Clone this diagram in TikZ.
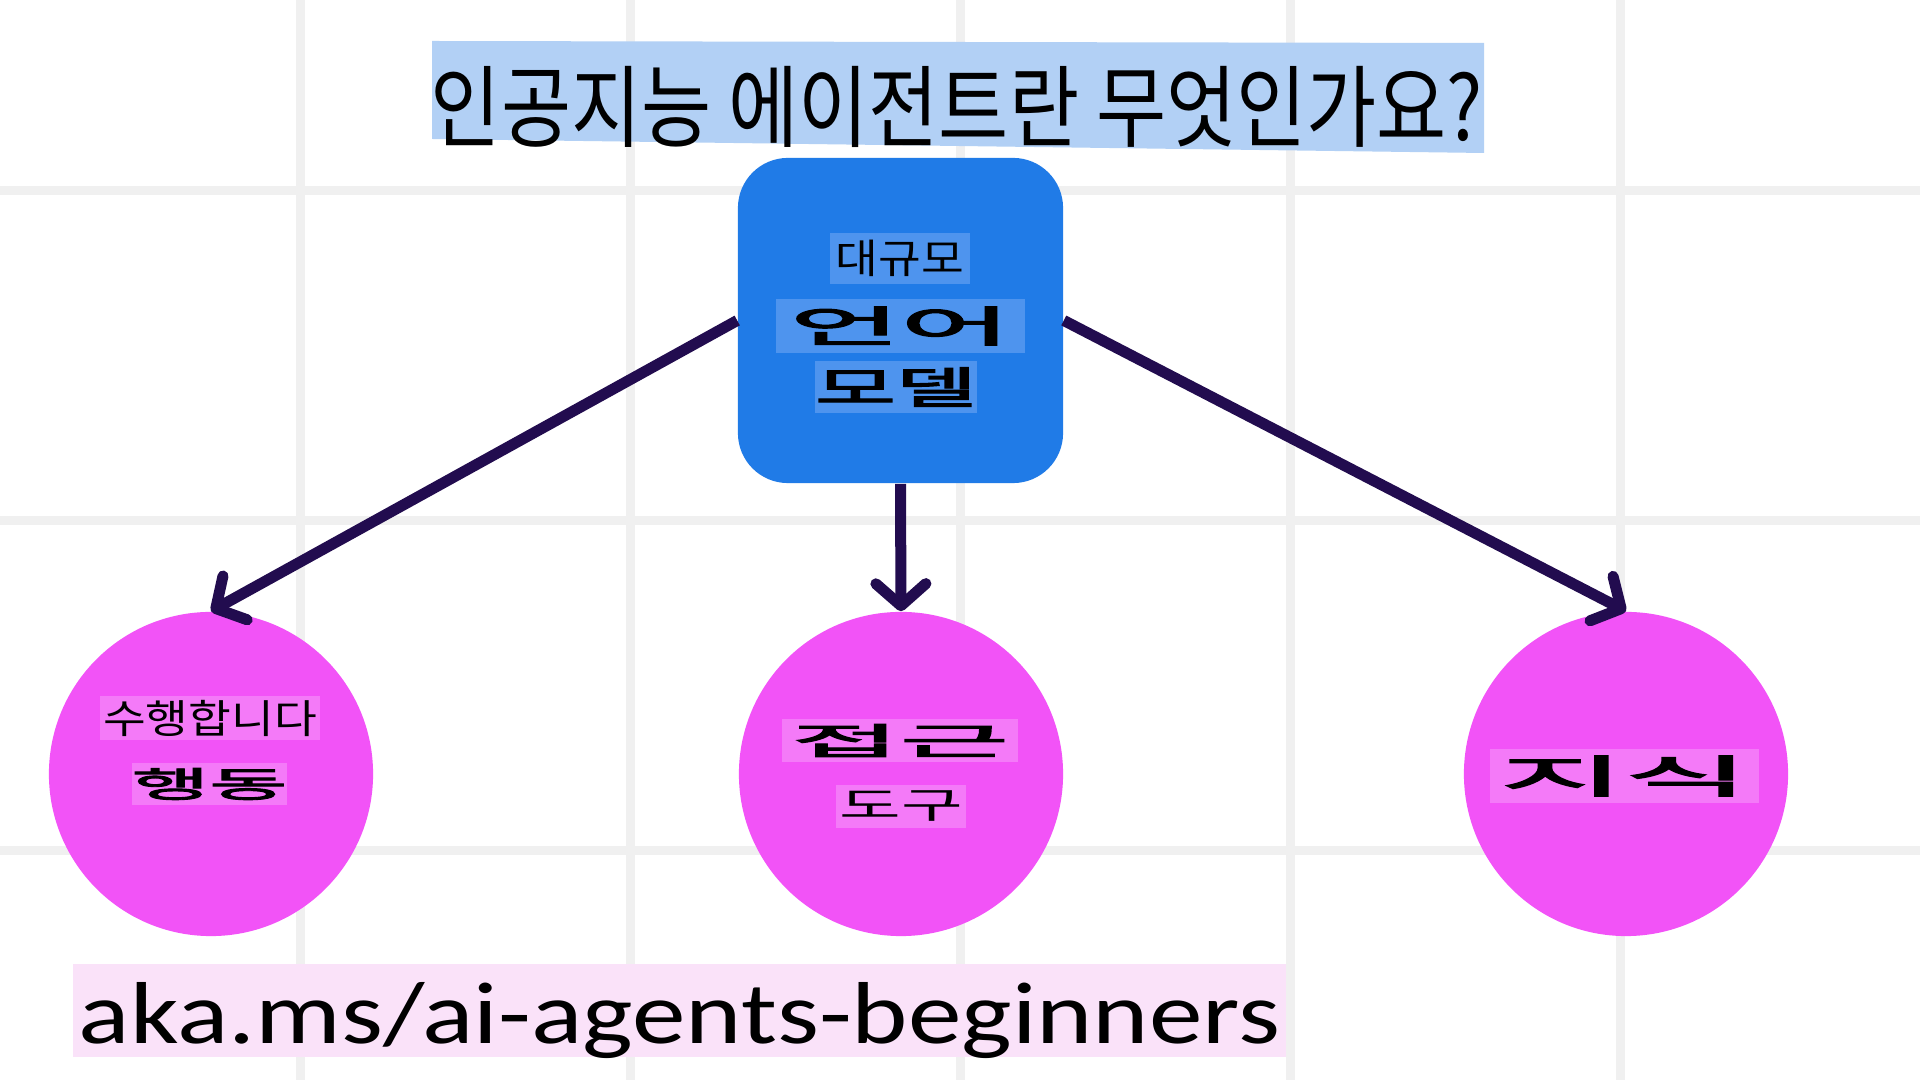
\documentclass[tikz,border=0pt]{standalone}
\usepackage{fontspec}
\usepackage{graphicx}
\usetikzlibrary{arrows.meta}
\setmainfont{Carlito}
\newfontfamily\kr{Noto Sans CJK KR}
\newfontfamily\krheavy[FakeBold=2.5]{Noto Sans CJK KR}
\definecolor{gridgray}{HTML}{F0F0F0}
\definecolor{titlebg}{HTML}{B2D0F5}
\definecolor{llmblue}{HTML}{207BE7}
\definecolor{llmhl}{HTML}{4E94EE}
\definecolor{pink}{HTML}{F253F7}
\definecolor{pinkhl}{HTML}{F47AF8}
\definecolor{urlbg}{HTML}{FAE2F9}
\definecolor{ink}{HTML}{220C4F}
\newcommand\stretchx[2]{\scalebox{#1}[1]{#2}}
\tikzset{
  gridline/.style={draw=gridgray, line width=0.09cm},
  llmbox/.style={fill=llmblue, rounded corners=0.5cm, minimum width=3.25cm, minimum height=3.25cm, inner sep=0pt},
  ball/.style={circle, fill=pink, minimum size=3.24cm, inner sep=0pt},
  hl/.style={inner sep=0pt, text=black},
  pointer/.style={draw=ink, line width=0.11cm, -{Straight Barb[length=0.22cm, width=0.5cm, round]}}
}
\newcommand\krsize[1]{\kr\fontsize{#1}{#1}\selectfont}
\newcommand\krheavysize[1]{\krheavy\fontsize{#1}{#1}\selectfont}

\begin{document}
\begin{tikzpicture}[x=0.01cm, y=-0.01cm]
  \def\gap {330}

  \fill[white] (0,0) rectangle (1920,1080);
  \useasboundingbox (0,0) rectangle (1920,1080);
  \foreach \i in {0,...,4}
    \draw[gridline] ({300.5+\gap*\i},0) -- ++(0,1080);
  \foreach \j in {0,1,2}
    \draw[gridline] (0,{191+\gap*\j}) -- ++(1920,0);

  % title
  \fill[titlebg] (432,41) -- (1484,43) -- (1484,153) -- (432,139) -- cycle;
  \node (title) at (957,107) [hl, font=\krsize{25.5}] {\stretchx{0.85}{인공지능 에이전트란 무엇인가요?}};

  % model
  \node (llm) at (900.5,320.5) [llmbox] {};
  \node (llm1) at (900,258.5) [hl, fill=llmhl, minimum width=1.4cm, minimum height=0.51cm, font=\krsize{11.5}] {\stretchx{1.15}{대규모}};
  \node (llm2) at (900.5,326) [hl, fill=llmhl, minimum width=2.49cm, minimum height=0.54cm, font=\krheavysize{12.2}] {\stretchx{2.8}{언어}};
  \node (llm3) at (896,387) [hl, fill=llmhl, minimum width=1.6cm, minimum height=0.52cm, font=\krheavysize{12.5}] {\stretchx{2.0}{모델}};

  \node (act) at (211,774) [ball] {};
  \node (tool) at (901,774) [ball] {};
  \node (fact) at (1626,774) [ball] {};

  \node (act1) at (210,718) [hl, fill=pinkhl, minimum width=2.2cm, minimum height=0.44cm, font=\krsize{11.3}] {\stretchx{1.17}{수행합니다}};
  \node (act2) at (209.5,784) [hl, fill=pinkhl, minimum width=1.55cm, minimum height=0.42cm, font=\krheavysize{10}] {\stretchx{2.4}{행동}};
  \node (tool1) at (900,740.5) [hl, fill=pinkhl, minimum width=2.36cm, minimum height=0.43cm, font=\krheavysize{10.5}] {\stretchx{3.2}{접근}};
  \node (tool2) at (901,806.5) [hl, fill=pinkhl, minimum width=1.3cm, minimum height=0.43cm, font=\krsize{10.3}] {\stretchx{1.85}{도구}};
  \node (fact1) at (1624.5,776) [hl, fill=pinkhl, minimum width=2.69cm, minimum height=0.54cm, font=\krheavysize{12.8}] {\stretchx{3.0}{지식}};

  \draw[pointer] (llm.west) -- (act.north);
  \draw[pointer] (llm.south) -- (tool.north);
  \draw[pointer] (llm.east) -- (fact.north);

  \node (url) at (679.5,1010.5) [hl, fill=urlbg, minimum width=12.13cm, text height=0.79cm, text depth=0.14cm, font=\fontsize{25}{26}\selectfont] {\stretchx{1.22}{aka.ms/ai-agents-beginners}};

\end{tikzpicture}
\end{document}
